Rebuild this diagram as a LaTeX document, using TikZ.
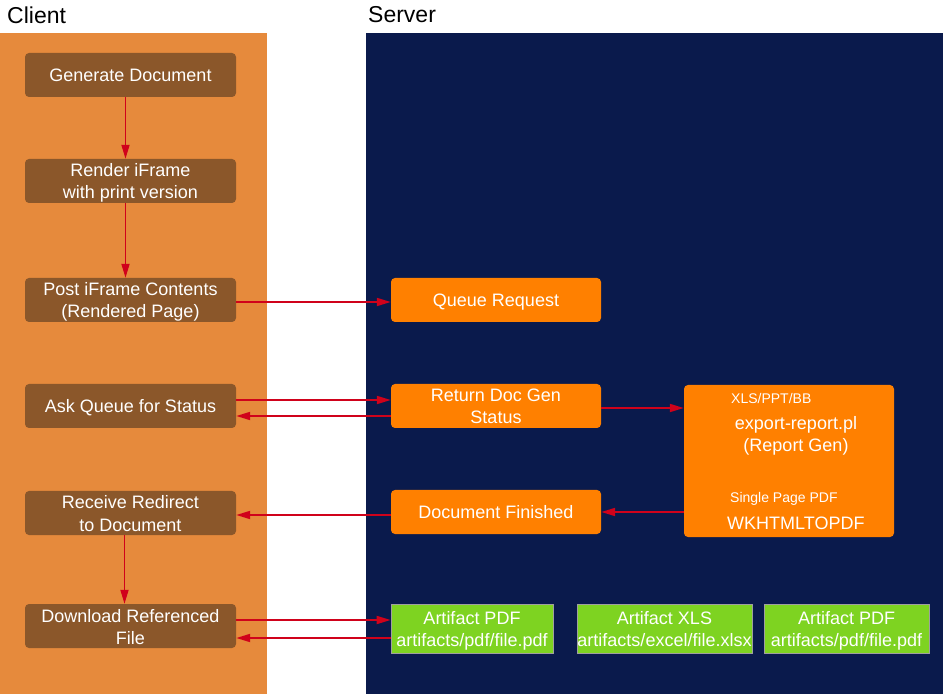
\documentclass[tikz,border=0pt]{standalone}
\usepackage{fontspec}
\setmainfont{Liberation Sans}
\usetikzlibrary{arrows.meta,positioning}

\definecolor{clientbg}{RGB}{230,138,60}
\definecolor{serverbg}{RGB}{10,26,76}
\definecolor{brownbox}{RGB}{139,87,42}
\definecolor{orangebox}{RGB}{255,128,0}
\definecolor{greenbox}{RGB}{126,211,33}
\definecolor{flowred}{RGB}{208,2,27}
% struts so the labels sit in the middle of their boxes
\newcommand{\twolines}[2]{\rule{0pt}{18pt}#1\\#2\rule[-4pt]{0pt}{4pt}}
\newcommand{\oneline}{\rule[-4pt]{0pt}{21pt}}

\begin{document}
\begin{tikzpicture}[x=1pt,y=-1pt,
    every node/.style={font=\fontsize{18}{22}\selectfont,text=white,inner sep=0pt},
    lane/.style={font=\fontsize{23}{26}\selectfont,text=black,anchor=west},
    client/.style={fill=brownbox,rounded corners=4pt,minimum width=211pt,minimum height=44pt,inner ysep=-1pt,align=center},
    server/.style={fill=orangebox,rounded corners=4pt,minimum width=210pt,minimum height=44pt,inner ysep=-1pt,align=center},
    artifact/.style={fill=greenbox,draw=gray!75,line width=0.8pt,minimum height=49pt,align=center},
    small/.style={font=\fontsize{14}{16}\selectfont,anchor=west},
    flow/.style={color=flowred,line width=1.8pt,-{Triangle[length=14pt,width=8pt]}}]
                        % \draw[help lines] (0,0) grid (943,700);
                        \useasboundingbox (0,0) rectangle (943,700);

                        % lanes
                        \fill[clientbg] (0,33) rectangle (267,694);
                        \fill[serverbg] (366,33) rectangle (943,694);
                        \node[lane] (clientlbl) at (7,15)   {Client};
                        \node[lane] (serverlbl) at (368,15) {Server};

                        \node[client] (gen)    at (130.5,75)  {\oneline Generate Document};
                        \node[client] (render) at (130.5,181) {\twolines{Render iFrame}{with print version}};
                        \node[client] (post)   at (130.5,300) {\twolines{Post iFrame Contents}{(Rendered Page)}};
                        \node[client] (ask)    at (130.5,406) {\oneline Ask Queue for Status};
                        \node[client] (recv)   at (130.5,513) {\twolines{Receive Redirect}{to Document}};
                        \node[client] (dl)     at (130.5,626) {\twolines{Download Referenced}{File}};

                        \node[server] (queue)  at (496,300)   {\oneline Queue Request};
                        \node[server] (status) at (496,406)   {\twolines{Return Doc Gen}{Status}};
                        \node[server] (done)   at (496,512)   {\oneline Document Finished};
                        \node[server,minimum height=152pt] (report) at (789,461) {};
                        \node[small] (xls)  at (731,398) {XLS/PPT/BB};
                        \node[align=center] (gen2) at (796,436) {export-report.pl\\(Report Gen)};
                        \node[small] (spp)  at (730,499) {Single Page PDF};
                        \node[anchor=west] (wk) at (727,523) {WKHTMLTOPDF};

                        \node[artifact,minimum width=162pt] (pdfa) at (472,628.5)   {\twolines{Artifact PDF}{artifacts/pdf/file.pdf}};
                        \node[artifact,minimum width=175pt] (xlsa) at (664.5,628.5) {\twolines{Artifact XLS}{artifacts/excel/file.xlsx}};
                        \node[artifact,minimum width=165pt] (pdfb) at (846.5,628.5) {\twolines{Artifact PDF}{artifacts/pdf/file.pdf}};

                        \path[flow]
                            ([xshift=-5pt]gen.south) edge ([xshift=-5pt]render.north)
                            ([xshift=-5pt]render.south) edge ([xshift=-5pt]post.north)
                            ([yshift=-2pt]post.east) edge ([yshift=-2pt]queue.west)
                            ([yshift=6pt]ask.east) edge ([yshift=6pt]status.west)
                            ([yshift=-10pt]status.west) edge ([yshift=-10pt]ask.east)
                            ([yshift=-2pt]status.east) edge ([yshift=53pt]report.west)
                            ([yshift=-51pt]report.west) edge ([yshift=0pt]done.east)
                            ([yshift=-3pt]done.west) edge ([yshift=-2pt]recv.east)
                            ([xshift=-6pt]recv.south) edge ([xshift=-6pt]dl.north)
                            ([yshift=6pt]dl.east) edge ([yshift=8.5pt]pdfa.west)
                            ([yshift=-9.5pt]pdfa.west) edge ([yshift=-12pt]dl.east);
\end{tikzpicture}
\end{document}
